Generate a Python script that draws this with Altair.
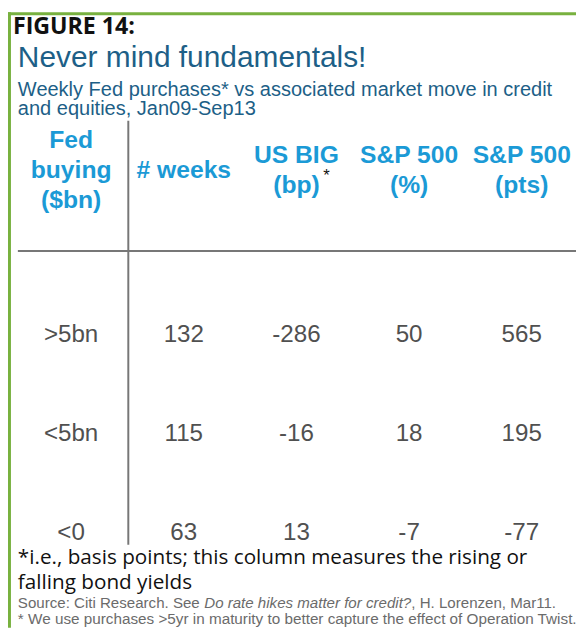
import altair as alt
import pandas as pd

# ---- data ----
figure_label = "FIGURE 14:"
title_text = "Never mind fundamentals!"
subtitle_lines = ["Weekly Fed purchases* vs associated market move in credit",
                  "and equities, Jan09-Sep13"]
col_keys = ["fed", "weeks", "big", "spx_pct", "spx_pts"]
col_headers = [["Fed", "buying", "($bn)"], ["# weeks"], ["US BIG", "(bp)"],
               ["S&P 500", "(%)"], ["S&P 500", "(pts)"]]
row_labels = [">5bn", "<5bn", "<0"]
weeks = [132, 115, 63]
us_big_bp = [-286, -16, 13]
spx_pct = [50, 18, -7]
spx_pts = [565, 195, -77]
footnote_lines = ["*i.e., basis points; this column measures the rising or",
                  "falling bond yields"]
source_parts = ["Source: Citi Research. See ", "Do rate hikes matter for credit?",
                ", H. Lorenzen, Mar11."]
note_text = "* We use purchases >5yr in maturity to better capture the effect of Operation Twist."

W, H = 576, 624
GREEN = "#78b13f"
TEAL = "#1d5f87"
BLUE = "#1b9ad6"
GRAY = "#505050"

# ---- tables ----
body_records = []
for i, r in enumerate(row_labels):
    vals = [r, weeks[i], us_big_bp[i], spx_pct[i], spx_pts[i]]
    for k, v in zip(col_keys, vals):
        body_records.append({"col": k, "row": r, "label": str(v)})
body = pd.DataFrame(body_records)

# header lines: vertically centred blocks on half-line slots 0..4
head_records = []
for k, lines in zip(col_keys, col_headers):
    n = len(lines)
    start = 2 - (n - 1)
    for j, line in enumerate(lines):
        head_records.append({"col": k, "slot": start + 2 * j, "label": line})
head = pd.DataFrame(head_records)

xscale = alt.Scale(type="point", domain=col_keys, range=[64, 521], padding=0)
yscale = alt.Scale(type="point", domain=row_labels, range=[327, 528], padding=0)
slotscale = alt.Scale(type="point", domain=[0, 1, 2, 3, 4], range=[130, 190], padding=0)

one = pd.DataFrame({"a": [0]})

def txt(text, x, y, size, color, font="Liberation Sans", weight="normal", style="normal", align="left", baseline="alphabetic"):
    return alt.Chart(one).mark_text(
        text=text, font=font, fontSize=size, fontWeight=weight, fontStyle=style,
        color=color, align=align, baseline=baseline
    ).encode(x=alt.value(x), y=alt.value(y))

layers = []
# green frame (top and left)
layers.append(alt.Chart(one).mark_rule(color=GREEN, strokeWidth=3).encode(
    x=alt.value(1.5), y=alt.value(0), y2=alt.value(H)))
layers.append(alt.Chart(one).mark_rule(color=GREEN, strokeWidth=3).encode(
    x=alt.value(0), x2=alt.value(W), y=alt.value(1.5)))

# titles
layers.append(txt(figure_label, 5, 22, 23.5, "#111111", font="Open Sans", weight="bold"))
layers.append(txt(title_text, 10, 55, 30.3, TEAL))
layers.append(txt(subtitle_lines[0], 10, 85, 20.3, TEAL))
layers.append(txt(subtitle_lines[1], 10, 104, 20.3, TEAL))

# grid lines
layers.append(alt.Chart(one).mark_rule(color="#777777", strokeWidth=2).encode(
    x=alt.value(122), y=alt.value(110), y2=alt.value(540)))
layers.append(alt.Chart(one).mark_rule(color="#777777", strokeWidth=2).encode(
    x=alt.value(10), x2=alt.value(W), y=alt.value(242)))

# header
layers.append(alt.Chart(head).mark_text(
    font="Liberation Sans", fontSize=25, fontWeight="bold", color=BLUE,
    baseline="middle", align="center"
).encode(x=alt.X("col:N", scale=xscale, axis=None),
         y=alt.Y("slot:O", scale=slotscale, axis=None), text="label:N"))
layers.append(txt("*", 323, 166, 17, "#111111", align="center", baseline="middle"))

# body
layers.append(alt.Chart(body).mark_text(
    font="Liberation Sans", fontSize=24.5, color=GRAY, baseline="middle", align="center"
).encode(x=alt.X("col:N", scale=xscale, axis=None),
         y=alt.Y("row:N", scale=yscale, axis=None), text="label:N"))

# footnotes
layers.append(txt(footnote_lines[0], 10, 559, 21, "#111111", font="Open Sans"))
layers.append(txt(footnote_lines[1], 10, 585, 21, "#111111", font="Open Sans"))
layers.append(txt(source_parts[0], 10, 604, 15.3, "#6b6b6b"))
layers.append(txt(source_parts[1], 199, 604, 15.3, "#6b6b6b", style="italic"))
layers.append(txt(source_parts[2], 409, 604, 15.3, "#6b6b6b"))
layers.append(txt(note_text, 10, 620, 15.5, "#6b6b6b"))

chart = alt.layer(*layers).properties(
    width=W, height=H, padding=0, autosize=alt.AutoSizeParams(type="none")
).configure_view(stroke=None).resolve_scale(x="shared", y="independent")

chart.save("out.html", embed_options={"renderer": "svg", "actions": False})
